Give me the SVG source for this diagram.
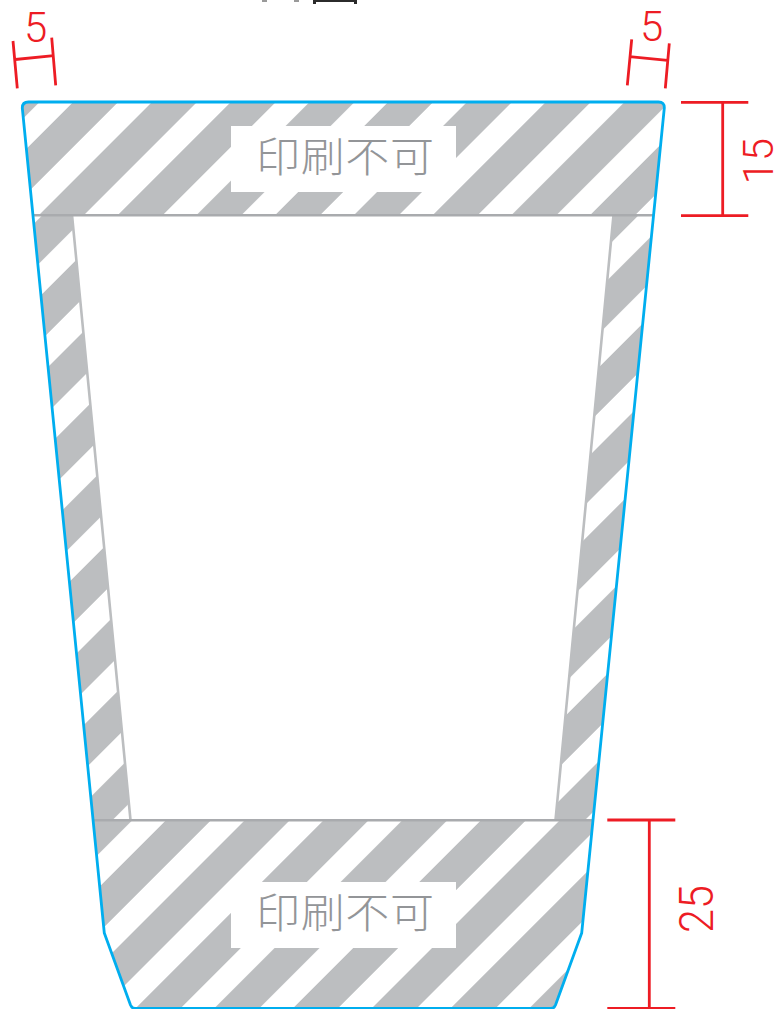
<svg xmlns="http://www.w3.org/2000/svg" width="774" height="1009" viewBox="0 0 774 1009">
<style>
.blue{fill:none;stroke:#00aeef;stroke-width:2.8;stroke-linejoin:round}
.sep{fill:none;stroke:#a9abae;stroke-width:2.6}
.inner{fill:none;stroke:#bcbec0;stroke-width:2.6}
.dim{fill:none;stroke:#ed1c24;stroke-width:2.8}
.dimt{font-family:"Roboto","Liberation Sans",sans-serif;font-weight:300;fill:#ed1c24;font-size:42px}
.no{font-family:"Noto Sans CJK JP",sans-serif;font-weight:300;fill:#939598;font-size:44px}
.s{fill:#bcbec0}
</style>
<defs>
<pattern id="pTop" patternUnits="userSpaceOnUse" width="55.685" height="55.685" patternTransform="translate(175.3 0) rotate(45)"><rect class="s" width="31.82" height="55.685"/></pattern>
<pattern id="pSide" patternUnits="userSpaceOnUse" width="55.685" height="55.685" patternTransform="translate(336.3 0) rotate(45)"><rect class="s" width="31.82" height="55.685"/></pattern>
<pattern id="pBot" patternUnits="userSpaceOnUse" width="55.685" height="55.685" patternTransform="translate(986.3 0) rotate(45)"><rect class="s" width="31.82" height="55.685"/></pattern>
</defs>
<rect width="774" height="1009" fill="#fff"/>
<g id="clipped-title" fill="#2b2b2b">
<rect x="262" y="0" width="5" height="2" fill="#9a9a9a"/>
<rect x="294" y="0" width="5" height="2" fill="#9a9a9a"/>
<rect x="313" y="0" width="44" height="2"/>
<rect x="313" y="0" width="3" height="4"/>
<rect x="354" y="0" width="3" height="4"/>
</g>
<g id="stripes">
<path fill="url(#pTop)" d="M22.5 108Q22.5 102 28.5 102H658.5Q664.5 102 664 108L653.5 215H33.5Z"/>
<path fill="url(#pSide)" d="M33.5 215H72L130.5 820H93Z"/>
<path fill="url(#pSide)" d="M613.5 215H653L593 820H555Z"/>
<path fill="url(#pBot)" d="M93.5 820.5H593.5L581.7 933L555 1005Q554 1008.5 551 1008.5H135Q132 1008.5 131 1005L104.3 933Z"/>
</g>
<g id="label-top"><rect x="231" y="126" width="225" height="66" fill="#fff"/><text class="no" transform="translate(256 172) scale(1 .92)" textLength="178">印刷不可</text></g>
<g id="label-bottom"><rect x="231" y="882" width="225" height="66" fill="#fff"/><text class="no" transform="translate(256 928) scale(1 .92)" textLength="178">印刷不可</text></g>
<g id="lines">
<path class="inner" d="M72 215L130.5 820M613.5 215L555.5 820"/>
<path class="sep" d="M33 215.3H653.5M93 820.3H593.5"/>
</g>
<g id="outline">
<path class="blue" d="M28.5 102H658.5Q664.5 102 664.3 108L581.7 933L555.5 1005Q554 1008.5 551 1008.5H135Q132 1008.5 130.5 1005L104.3 933L22.3 108Q22.3 102 28.5 102Z"/>
</g>
<g id="dimensions">
<path class="dim" d="M13 41L17.3 88.3M51.7 37.7L55.7 85.3M15.2 59.5L53.7 55.7"/>
<path class="dim" d="M631.7 39.3L627.3 85.3M669.3 43.3L665.3 88.3M629.5 56.7L667.5 60.3"/>
<path class="dim" d="M681 102.3H748.3M681 215.7H748.3M722.7 102.3V215.7"/>
<path class="dim" d="M607.3 820H675.3M607.3 1008.3H675.3M649.3 820V1008.3"/>
<text class="dimt" x="24" y="41.7">5</text>
<text class="dimt" x="640" y="41">5</text>
<text class="dimt" transform="translate(773 184.5) rotate(-90)">15</text>
<text class="dimt" style="font-size:48px" transform="translate(713 933) rotate(-90) scale(.9 1)">25</text>
</g>
</svg>
